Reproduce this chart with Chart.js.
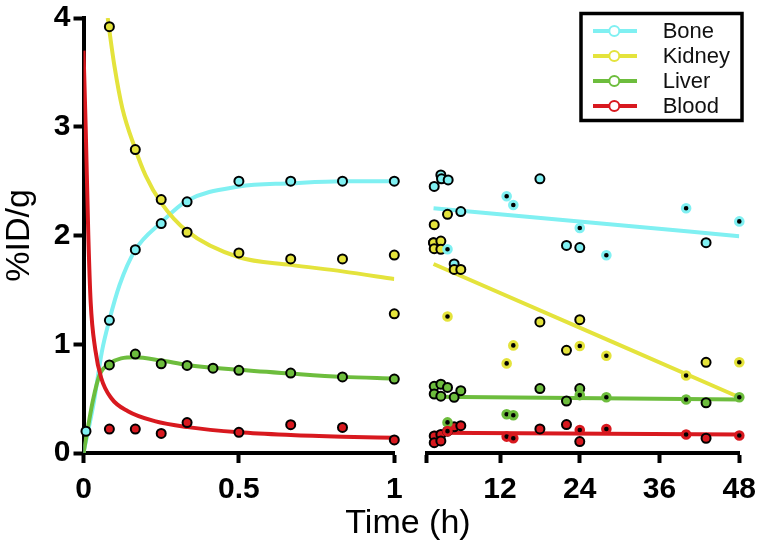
<!DOCTYPE html>
<html>
<head>
<meta charset="utf-8">
<script src="https://cdn.jsdelivr.net/npm/chart.js@4.4.1/dist/chart.umd.min.js"></script>
<style>
  body { margin: 0; background: #fff; }
  #wrap { position: relative; width: 757px; height: 542px; overflow: hidden; }
  canvas { position: absolute; top: 0; }
  #early { left: 0; }
  #late { left: 410px; }
  #xtitle {
    position: absolute; left: 308px; width: 200px; top: 504px;
    text-align: center; font: 34px/34px 'Liberation Sans', Arial, sans-serif; color: #000;
  }
</style>
</head>
<body>
<div id="wrap">
  <canvas id="early" width="410" height="542"></canvas>
  <canvas id="late" width="347" height="542"></canvas>
  <div id="xtitle">Time (h)</div>
</div>
<script>
const FONT = "'Liberation Sans', Arial, sans-serif";

const seriesNames = ['Bone', 'Kidney', 'Liver', 'Blood'];
const seriesColors = ['#80f0f2', '#e4e33c', '#6dbd3d', '#d8191f'];

// 0 - 1 h panel: measured points
const boneEarlyT = [0.008, 0.0833, 0.1667, 0.25, 0.3333, 0.5, 0.6667, 0.8333, 1];
const boneEarlyV = [0.2, 1.22, 1.87, 2.11, 2.31, 2.50, 2.50, 2.50, 2.50];
const kidneyEarlyT = [0.0833, 0.1667, 0.25, 0.3333, 0.5, 0.6667, 0.8333, 1, 1];
const kidneyEarlyV = [3.92, 2.79, 2.33, 2.03, 1.84, 1.785, 1.785, 1.82, 1.28];
const liverEarlyT = [0.0833, 0.1667, 0.25, 0.3333, 0.4167, 0.5, 0.6667, 0.8333, 1];
const liverEarlyV = [0.81, 0.91, 0.82, 0.805, 0.78, 0.76, 0.735, 0.70, 0.68];
const bloodEarlyT = [0.0833, 0.1667, 0.25, 0.3333, 0.5, 0.6667, 0.8333, 1];
const bloodEarlyV = [0.22, 0.22, 0.18, 0.28, 0.19, 0.26, 0.235, 0.12];

// 0 - 1 h panel: fitted curves
const boneFitT = [0, 0.034, 0.059, 0.083, 0.116, 0.166, 0.25, 0.333, 0.5, 0.667, 0.833, 1];
const boneFitV = [0, 0.48, 0.93, 1.22, 1.545, 1.865, 2.12, 2.32, 2.45, 2.48, 2.50, 2.50];
const kidneyFitT = [0.078, 0.083, 0.1, 0.125, 0.166, 0.2, 0.25, 0.333, 0.5, 0.667, 0.833, 1];
const kidneyFitV = [4.0, 3.89, 3.55, 3.17, 2.80, 2.55, 2.30, 2.04, 1.80, 1.73, 1.67, 1.60];
const liverFitT = [0, 0.014, 0.03, 0.052, 0.083, 0.121, 0.166, 0.25, 0.333, 0.5, 0.667, 0.833, 1];
const liverFitV = [0, 0.23, 0.48, 0.72, 0.82, 0.87, 0.88, 0.85, 0.81, 0.765, 0.73, 0.70, 0.685];
const bloodFitT = [0, 0.007, 0.0155, 0.023, 0.038, 0.057, 0.089, 0.143, 0.229, 0.335, 0.5, 0.667, 0.833, 1];
const bloodFitV = [3.70, 3.0, 2.0, 1.39, 0.95, 0.69, 0.506, 0.384, 0.293, 0.238, 0.19, 0.165, 0.15, 0.14];

// 1 - 48 h panel: outlined points
const boneLateT = [2.1, 3.1, 3.2, 4.2, 6.1, 2.0, 5.1, 18, 22, 24, 43];
const boneLateV = [2.44, 2.545, 2.51, 2.50, 2.21, 1.925, 1.73, 2.51, 1.90, 1.88, 1.925];
const kidneyLateT = [2.1, 2.0, 3.1, 2.1, 3.1, 4.1, 5.1, 6.1, 18, 24, 22, 43];
const kidneyLateV = [2.09, 1.925, 1.94, 1.87, 1.865, 2.185, 1.68, 1.68, 1.20, 1.22, 0.94, 0.83];
const liverLateT = [2.1, 2.1, 3.1, 3.1, 4.1, 5.1, 6.1, 18, 24, 22, 43];
const liverLateV = [0.61, 0.54, 0.63, 0.52, 0.60, 0.51, 0.57, 0.59, 0.59, 0.476, 0.46];
const bloodLateT = [2.1, 2.1, 3.1, 3.1, 4.1, 5.1, 6.1, 18, 22, 24, 43];
const bloodLateV = [0.156, 0.094, 0.17, 0.11, 0.20, 0.24, 0.25, 0.22, 0.26, 0.105, 0.135];

// 1 - 48 h panel: dark-centred points
const haloT = [4.1, 13, 14, 24, 28, 40, 48];
const boneHaloV = [1.865, 2.35, 2.27, 2.06, 1.81, 2.24, 2.12];
const kidneyHaloV = [1.25, 0.82, 0.985, 0.98, 0.89, 0.71, 0.83];
const liverHaloV = [0.28, 0.355, 0.345, 0.53, 0.51, 0.49, 0.51];
const bloodHaloV = [0.2, 0.15, 0.135, 0.21, 0.22, 0.17, 0.16];

// 1 - 48 h panel: linear fits
const lineT = [2, 48];
const boneLineV = [2.24, 1.985];
const kidneyLineV = [1.73, 0.51];
const liverLineV = [0.515, 0.49];
const bloodLineV = [0.185, 0.17];

const yTicks = [0, 1, 2, 3, 4];
const xLeftTicks = [0, 0.5, 1];
const xRightTicks = [1, 12, 24, 36, 48];

function xy(ts, vs) {
    return ts.map(function(t, i) { return { x: t, y: vs[i] }; });
}

function fitLine(i, data) {
    return {
        label: seriesNames[i], data: data, showLine: true,
        borderColor: seriesColors[i], borderWidth: 4,
        pointRadius: 0, cubicInterpolationMode: 'monotone', order: 3
    };
}
function openPts(i, data) {
    return {
        data: data, showLine: false, clip: false,
        pointRadius: 4.5, pointBorderWidth: 2,
        pointBackgroundColor: seriesColors[i], pointBorderColor: '#000', order: 2
    };
}
function haloPts(i, data) {
    return {
        data: data, showLine: false, clip: false,
        pointRadius: 3.8, pointBorderWidth: 3,
        pointBackgroundColor: '#000', pointBorderColor: seriesColors[i], order: 1
    };
}

function xAxis(min, max, ticks, hideFirst) {
    return {
        type: 'linear', min: min, max: max,
        border: { display: true, width: 4, color: '#000' },
        grid: { drawOnChartArea: false, drawTicks: true, tickLength: 10, tickWidth: 4, color: '#000' },
        afterBuildTicks: function(scale) { scale.ticks = ticks.map(function(v) { return { value: v }; }); },
        afterFit: function(scale) {
            scale.height = 89;
            scale.paddingLeft = 0;
            scale.paddingRight = 0;
        },
        ticks: {
            color: '#000', padding: 12, maxRotation: 0, autoSkip: false,
            font: { family: FONT, size: 30, weight: 'bold', lineHeight: 1 },
            callback: function(v, idx) { return (hideFirst && idx === 0) ? '' : String(v); }
        }
    };
}

const earlyFits = [xy(boneFitT, boneFitV), xy(kidneyFitT, kidneyFitV), xy(liverFitT, liverFitV), xy(bloodFitT, bloodFitV)];
const earlyPts = [xy(boneEarlyT, boneEarlyV), xy(kidneyEarlyT, kidneyEarlyV), xy(liverEarlyT, liverEarlyV), xy(bloodEarlyT, bloodEarlyV)];
const lateLines = [xy(lineT, boneLineV), xy(lineT, kidneyLineV), xy(lineT, liverLineV), xy(lineT, bloodLineV)];
const latePts = [xy(boneLateT, boneLateV), xy(kidneyLateT, kidneyLateV), xy(liverLateT, liverLateV), xy(bloodLateT, bloodLateV)];
const lateHalo = [xy(haloT, boneHaloV), xy(haloT, kidneyHaloV), xy(haloT, liverHaloV), xy(haloT, bloodHaloV)];

let earlySets = [];
let lateSets = [];
for (let i = seriesNames.length - 1; i >= 0; i--) {
    earlySets.push(fitLine(i, earlyFits[i]), openPts(i, earlyPts[i]));
    lateSets.push(fitLine(i, lateLines[i]), openPts(i, latePts[i]), haloPts(i, lateHalo[i]));
}

const baseOptions = {
    responsive: false,
    animation: false,
    events: [],
    plugins: { legend: { display: false }, tooltip: { enabled: false } }
};

new Chart(document.getElementById('early'), {
    type: 'scatter',
    data: { datasets: earlySets },
    options: Object.assign({}, baseOptions, {
        layout: { padding: { left: 0, right: 15.7, top: 16, bottom: 0 } },
        scales: {
            x: xAxis(0, 1, xLeftTicks, false),
            y: {
                type: 'linear', min: 0, max: 4,
                border: { display: true, width: 4, color: '#000' },
                grid: { drawOnChartArea: false, drawTicks: true, tickLength: 10, tickWidth: 4, color: '#000' },
                afterBuildTicks: function(scale) { scale.ticks = yTicks.map(function(v) { return { value: v }; }); },
                afterFit: function(scale) { scale.width = 83.5; },
                ticks: { color: '#000', padding: 3,
                         font: { family: FONT, size: 30, weight: 'bold', lineHeight: 1 } },
                title: { display: true, text: '%ID/g', color: '#000',
                         font: { family: FONT, size: 34, lineHeight: 1 }, padding: { top: 3, bottom: 0 } }
            }
        }
    })
});

// boxed legend in the top right corner of the late panel
const boxLegend = {
    id: 'boxLegend',
    afterDraw: function(chart) {
        const ctx = chart.ctx;
        ctx.save();
        ctx.lineWidth = 3.5;
        ctx.strokeStyle = '#000';
        ctx.strokeRect(171, 13.5, 161, 107);
        ctx.font = '22px ' + FONT;
        ctx.textBaseline = 'middle';
        seriesNames.forEach(function(name, i) {
            const y = 31 + i * 25;
            ctx.strokeStyle = seriesColors[i];
            ctx.lineWidth = 4;
            ctx.beginPath();
            ctx.moveTo(183, y);
            ctx.lineTo(227, y);
            ctx.stroke();
            ctx.beginPath();
            ctx.arc(204.3, y, 5, 0, Math.PI * 2);
            ctx.fillStyle = '#fff';
            ctx.fill();
            ctx.lineWidth = 2;
            ctx.stroke();
            ctx.fillStyle = '#111';
            ctx.fillText(name, 252.7, y + 1);
        });
        ctx.restore();
    }
};

new Chart(document.getElementById('late'), {
    type: 'scatter',
    data: { datasets: lateSets },
    options: Object.assign({}, baseOptions, {
        layout: { padding: { left: 16.9, right: 17.7, top: 16, bottom: 0 } },
        scales: {
            x: xAxis(1, 48, xRightTicks, true),
            y: { type: 'linear', min: 0, max: 4, display: false }
        }
    }),
    plugins: [boxLegend]
});
</script>
</body>
</html>
